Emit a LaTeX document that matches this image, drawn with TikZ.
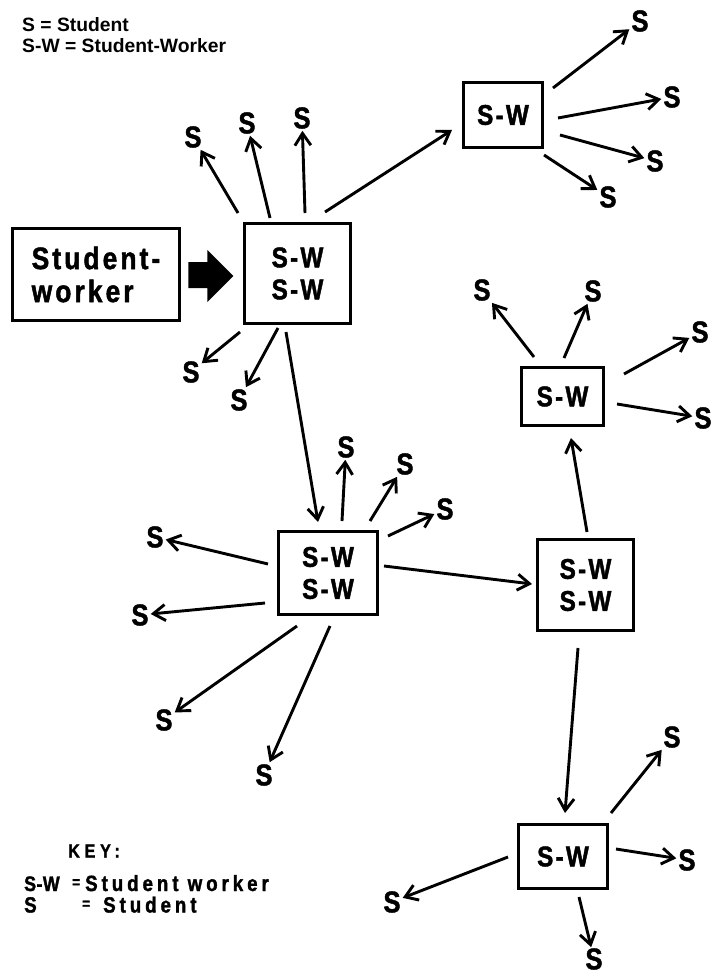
\documentclass[tikz,border=0pt]{standalone}
\usepackage{fontspec}
\setmainfont{Liberation Sans}
\newfontfamily\kf[FakeStretch=0.85,LetterSpace=8,FakeBold=1.5]{Liberation Sans Bold}
\usetikzlibrary{arrows.meta,calc}
\newcommand\Kb{\kf}
\begin{document}
\begin{tikzpicture}[x=1pt,y=-1pt,
  box/.style={draw, line width=3.8pt, inner sep=0pt, align=center,
    font=\Kb\fontsize{28.5}{32}\selectfont},
  lab/.style={inner sep=2pt, font=\Kb\fontsize{30}{32}\selectfont},
  arr/.style={line width=2.9pt, -{Straight Barb[length=12pt,width=16pt]}},
  keyt/.style={inner sep=0pt, anchor=west, text height=15pt, text depth=0pt,
    font=\Kb\addfontfeature{LetterSpace=18}\fontsize{22}{24}\selectfont},
  head/.style={inner sep=0pt, anchor=west, font=\bfseries\fontsize{19.3}{20}\selectfont}]
\useasboundingbox (0,0) rectangle (711,976);
\fill[white] (0,0) rectangle (711,976);

% header
\node[head] (h1) at (22,24.5) {S = Student};
\node[head] (h2) at (22,45.5) {S-W = Student-Worker};

% boxes
\node[box, minimum width=167pt, minimum height=92pt, align=left,
      font=\Kb\addfontfeature{LetterSpace=10}\fontsize{31}{33}\selectfont] (stud) at (96,274.5) {Student-\\worker};
\node[box, minimum width=106pt, minimum height=100pt] (A) at (297.5,273.5) {S-W\\S-W};
\node[box, minimum width=79pt, minimum height=65pt] (C) at (503,115) {S-W};
\node[box, minimum width=82pt, minimum height=58pt] (D) at (562.5,396.5) {S-W};
\node[box, minimum width=99pt, minimum height=83pt] (B) at (328,573) {S-W\\S-W};
\node[box, minimum width=96pt, minimum height=91pt] (E) at (585.5,585) {S-W\\S-W};
\node[box, minimum width=89pt, minimum height=64pt] (F) at (563,856.5) {S-W};

% fat arrow
\fill ($(stud.east)+(7,-12.5)$) -- ($(stud.east)+(26,-12.5)$) -- ($(stud.east)+(26,-24.5)$)
  -- ($(stud.east)+(52,1.5)$) -- ($(stud.east)+(26,27.5)$) -- ($(stud.east)+(26,13.5)$)
  -- ($(stud.east)+(7,13.5)$) -- cycle;

% S labels
\node[lab] (a1) at (193,137) {S};
\node[lab] (a2) at (247,123) {S};
\node[lab] (a3) at (302,118) {S};
\node[lab] (a4) at (191,372) {S};
\node[lab] (a5) at (239,400) {S};
\node[lab] (c1) at (640,21) {S};
\node[lab] (c2) at (672,97) {S};
\node[lab] (c3) at (655,161) {S};
\node[lab] (c4) at (608,197) {S};
\node[lab] (d1) at (482,290) {S};
\node[lab] (d2) at (593,291) {S};
\node[lab] (d3) at (700,332) {S};
\node[lab] (d4) at (703,418) {S};
\node[lab] (b1) at (346,447) {S};
\node[lab] (b2) at (405,464) {S};
\node[lab] (b3) at (445,509) {S};
\node[lab] (b4) at (155,537) {S};
\node[lab] (b5) at (140,615) {S};
\node[lab] (b6) at (164,720) {S};
\node[lab] (b7) at (264,775) {S};
\node[lab] (f1) at (672,737) {S};
\node[lab] (f2) at (687,860) {S};
\node[lab, inner sep=1pt] (f3) at (594,959) {S};
\node[lab] (f4) at (392,902) {S};

% arrows from A
\draw[arr] ($(A)+(-59.5,-60.5)$) -- (a1);
\draw[arr] ($(A)+(-27.5,-55.5)$) -- (a2);
\draw[arr] ($(A)+(7.5,-60.5)$) -- (a3);
\draw[arr] ($(A)+(-57.5,58.5)$) -- (a4);
\draw[arr] ($(A)+(-19.5,54.5)$) -- (a5);
\draw[arr] ($(A)+(27.5,-61.5)$) -- ($(C)+(-51,15)$);
\draw[arr] ($(A)+(-11.5,58.5)$) -- ($(B)+(-10,-51)$);

% arrows from C
\draw[arr] ($(C)+(50,-27)$) -- (c1);
\draw[arr] ($(C)+(55,3)$) -- (c2);
\draw[arr] ($(C)+(57,20)$) -- (c3);
\draw[arr] ($(C)+(41,40)$) -- (c4);

% arrows from D
\draw[arr] ($(D)+(-28.5,-39.5)$) -- (d1);
\draw[arr] ($(D)+(1.5,-38.5)$) -- (d2);
\draw[arr] ($(D)+(61.5,-22.5)$) -- (d3);
\draw[arr] ($(D)+(54.5,7.5)$) -- (d4);

% arrows from B
\draw[arr] ($(B)+(14,-52)$) -- (b1);
\draw[arr] ($(B)+(42,-52)$) -- (b2);
\draw[arr] ($(B)+(60,-37)$) -- (b3);
\draw[arr] ($(B)+(-60,-9)$) -- (b4);
\draw[arr] ($(B)+(-63,30)$) -- (b5);
\draw[arr] ($(B)+(-31,53)$) -- (b6);
\draw[arr] ($(B)+(2,53)$) -- (b7);
\draw[arr] ($(B)+(56,-7)$) -- ($(E)+(-53.5,-1)$);

% arrows from E
\draw[arr] ($(E)+(1.5,-53)$) -- ($(D)+(8.5,41.5)$);
\draw[arr] ($(E)+(-7.5,63)$) -- ($(F)+(2,-43.5)$);

% arrows from F
\draw[arr] ($(F)+(48,-43.5)$) -- (f1);
\draw[arr] ($(F)+(53,-7.5)$) -- (f2);
\draw[arr] ($(F)+(16,40.5)$) -- (f3);
\draw[arr] ($(F)+(-55,0.5)$) -- (f4);

% key
\node[keyt, text height=13pt, font=\Kb\addfontfeature{LetterSpace=25}\fontsize{19}{20}\selectfont] (keyh) at (68,851) {KEY:};
\node[keyt, font=\Kb\addfontfeature{LetterSpace=2}\fontsize{21}{24}\selectfont] (k1a) at (24,883.5) {S-W};
\node[keyt, text height=8pt, font=\Kb\fontsize{16}{18}\selectfont] (k1b) at (72,883.5) {=};
\node[keyt] (k1c) at (85,883.5) {Student worker};
\node[keyt] (k2a) at (24,905) {S};
\node[keyt, text height=8pt, font=\Kb\fontsize{16}{18}\selectfont] (k2b) at (82,905) {=};
\node[keyt] (k2c) at (103,905) {Student};
\end{tikzpicture}
\end{document}
